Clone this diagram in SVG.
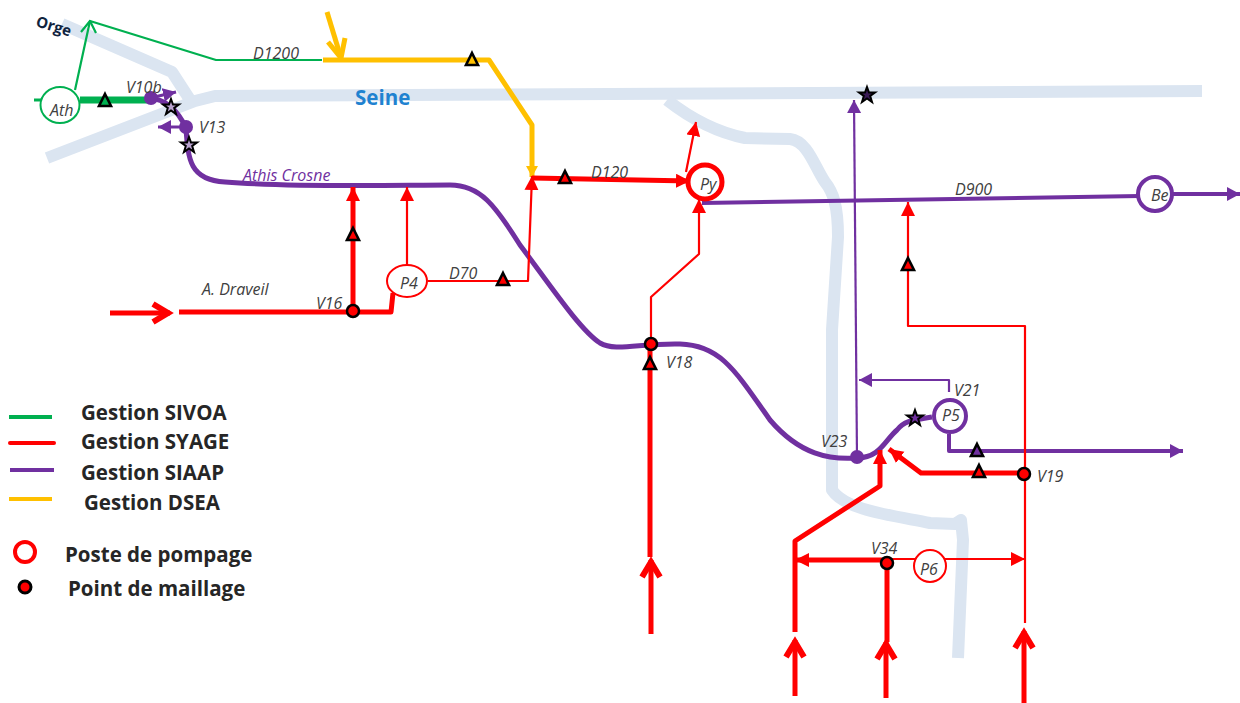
<svg xmlns="http://www.w3.org/2000/svg" width="1240" height="703" viewBox="0 0 1240 703">
<style>
text{font-family:"Open Sans","Liberation Sans",sans-serif;fill:#404040;font-style:italic;font-size:16px}
.leg{font-style:normal;font-weight:700;font-size:20.5px;fill:#262626}
.riv{fill:none;stroke:#dbe5f1;stroke-width:12;stroke-linejoin:round}
.g,.r,.p,.y{fill:none;stroke-linejoin:round}
.g{stroke:#00b050}.r{stroke:#ff0000}.p{stroke:#7030a0}.y{stroke:#ffc000}
.w1{stroke-width:2.2}.w2{stroke-width:3}.w3{stroke-width:4}.w4{stroke-width:5}.w5{stroke-width:7}
.tri{stroke:#000;stroke-width:2.6;stroke-linejoin:miter}
.star{stroke:#000;stroke-width:2}
.node{fill:#fff}
.mesh{fill:#ff0000;stroke:#000;stroke-width:2.5}
</style>
<defs>
<marker id="ar" markerUnits="userSpaceOnUse" markerWidth="18" markerHeight="18" refX="14" refY="7" orient="auto"><path d="M0,0L14,7L0,14z" fill="#ff0000"/></marker>
<marker id="ao" markerUnits="userSpaceOnUse" markerWidth="30" markerHeight="30" refX="22" refY="13" orient="auto"><path d="M5,4L20,13L5,22" fill="none" stroke="#ff0000" stroke-width="6"/></marker>
<marker id="ay" markerUnits="userSpaceOnUse" markerWidth="16" markerHeight="16" refX="11" refY="6" orient="auto"><path d="M0,0L11,6L0,12z" fill="#ffc000"/></marker>
<marker id="ap" markerUnits="userSpaceOnUse" markerWidth="18" markerHeight="18" refX="13" refY="7" orient="auto"><path d="M0,0L13,7L0,14z" fill="#7030a0"/></marker>
<path id="t" d="M0,-7L6,5H-6z"/>
<path id="s" d="M0,-8L2,-2.5L8,-2.5L3.2,1L5,7L0,3.4L-5,7L-3.2,1L-8,-2.5L-2,-2.5z"/>
</defs>
<g id="rivers">
<path class="riv" d="M1202,91L215,96L195,101L47,158"/>
<path class="riv" d="M62,24L172,72L194,106"/>
<path class="riv" d="M667,100C690,118 715,132 745,138L790,139C808,141 815,168 825,182C833,192 838,205 838,237L832,330L832,490C845,510 890,515 930,523L955,524L961,520L963,540L958,658"/>
</g>
<g id="connectors">
<path class="g w1" d="M322,60H216L90,21L75,90"/>
<path class="g w1" d="M81,32L90,21L96,33"/>
<path class="g w2" d="M34,100H42"/>
<path class="g w5" d="M80,100H150"/>
<path class="y w4" d="M323,60H489L532,125L532,177" marker-end="url(#ay)"/>
<path class="y w4" d="M327,12L341,58"/>
<path class="y w4" d="M328,42L341,58L345,38"/>
<path class="p w4" d="M150,98C170,100 180,115 186,128C188,160 190,180 225,182C300,188 400,185 450,185C480,185 495,205 520,245C550,285 580,330 600,343C615,352 640,343 680,344C720,345 735,370 770,420C800,455 830,460 857,458C880,458 885,440 897,430C905,420 915,420 932,417"/>
<path class="p w2" d="M150,98L176,92" marker-end="url(#ap)"/>
<path class="p w2" d="M186,127H158" marker-end="url(#ap)"/>
<path class="p w1" d="M857,458L854,100" marker-end="url(#ap)"/>
<path class="p w1" d="M949,392V380H859" marker-end="url(#ap)"/>
<path class="p w3" d="M702,203L1140,196"/>
<path class="p w3" d="M1172,194H1240" marker-end="url(#ap)"/>
<path class="p w3" d="M949,434V451H1183" marker-end="url(#ap)"/>
<path class="r w4" d="M179,312H391L393,293"/>
<path class="r w4" d="M110,313H170" marker-end="url(#ao)"/>
<path class="r w4" d="M353,312V187" marker-end="url(#ar)"/>
<path class="r w1" d="M407,269V187" marker-end="url(#ar)"/>
<path class="r w1" d="M428,281H528L532,176" marker-end="url(#ar)"/>
<path class="r w4" d="M532,178L690,181" marker-end="url(#ar)"/>
<path class="r w1" d="M651,345V297L699,254L699,199" marker-end="url(#ar)"/>
<path class="r w1" d="M686,172L696,122" marker-end="url(#ar)"/>
<path class="r w4" d="M650,557V345"/>
<path class="r w4" d="M651,634V560" marker-end="url(#ao)"/>
<path class="r w1" d="M1025,623V326H908V202" marker-end="url(#ar)"/>
<path class="r w4" d="M1024,473H921L889,449" marker-end="url(#ar)"/>
<path class="r w4" d="M795,632V541L880,486L880,450" marker-end="url(#ar)"/>
<path class="r w4" d="M887,560H795" marker-end="url(#ar)"/>
<path class="r w1" d="M887,559H1025" marker-end="url(#ar)"/>
<path class="r w4" d="M887,642V562"/>
<path class="r w4" d="M795,696V640" marker-end="url(#ao)"/>
<path class="r w4" d="M886,698V642" marker-end="url(#ao)"/>
<path class="r w4" d="M1024,703V631" marker-end="url(#ao)"/>
</g>
<g id="Ath"><ellipse class="g node" cx="60" cy="105" rx="19.500" ry="18" stroke-width="2"/><text x="50" y="116">Ath</text></g>
<g id="P4"><ellipse class="r node" cx="407" cy="281" rx="20" ry="16" stroke-width="2"/><text x="400" y="289">P4</text></g>
<g id="Py"><circle class="r node" cx="705" cy="182" r="17" stroke-width="5"/><text x="700" y="190">Py</text></g>
<g id="Be"><circle class="p node" cx="1155" cy="194" r="17" stroke-width="4"/><text x="1151" y="201">Be</text></g>
<g id="P5"><circle class="p node" cx="950" cy="416" r="16" stroke-width="4"/><text x="942" y="421">P5</text></g>
<g id="P6"><circle class="r node" cx="930" cy="566" r="16" stroke-width="2"/><text x="920" y="575">P6</text></g>
<g id="triangles">
<use href="#t" x="105" y="101" fill="#00b050" class="tri"/>
<use href="#t" x="472" y="60" fill="#ffc000" class="tri"/>
<use href="#t" x="565" y="178" fill="#ff0000" class="tri"/>
<use href="#t" x="353" y="235" fill="#ff0000" class="tri"/>
<use href="#t" x="503" y="280" fill="#ff0000" class="tri"/>
<use href="#t" x="650" y="364" fill="#ff0000" class="tri"/>
<use href="#t" x="908" y="265" fill="#ff0000" class="tri"/>
<use href="#t" x="977" y="451" fill="#7030a0" class="tri"/>
<use href="#t" x="979" y="472" fill="#ff0000" class="tri"/>
</g>
<g id="stars">
<use href="#s" x="171" y="107" fill="#b9a3cf" class="star"/>
<use href="#s" x="189" y="145" fill="#b9a3cf" class="star"/>
<use href="#s" x="915" y="418" fill="#7030a0" class="star"/>
<use href="#s" x="867" y="95" fill="#3a1a55" class="star"/>
</g>
<g id="points">
<circle cx="151" cy="98" r="7" fill="#7030a0"/>
<circle cx="186" cy="127" r="7" fill="#7030a0"/>
<circle cx="857" cy="457" r="7" fill="#7030a0"/>
<circle class="mesh" cx="353" cy="311" r="6"/>
<circle class="mesh" cx="651" cy="344" r="6"/>
<circle class="mesh" cx="1024" cy="474" r="6"/>
<circle class="mesh" cx="887" cy="563" r="6"/>
</g>
<g id="labels">
<text x="35" y="26" transform="rotate(17 35 26)" style="font-style:normal;font-weight:700;fill:#10243e;font-size:15px">Orge</text>
<text x="253" y="59">D1200</text>
<text x="126" y="93">V10b</text>
<text x="199" y="133">V13</text>
<text x="355" y="105" style="font-style:normal;font-weight:700;font-size:20.5px;fill:#1f82d0">Seine</text>
<text x="243" y="181" style="fill:#7030a0">Athis Crosne</text>
<text x="591" y="178">D120</text>
<text x="955" y="195">D900</text>
<text x="202" y="295">A. Draveil</text>
<text x="316" y="309">V16</text>
<text x="449" y="279">D70</text>
<text x="666" y="368">V18</text>
<text x="954" y="396">V21</text>
<text x="821" y="447">V23</text>
<text x="1037" y="482">V19</text>
<text x="871" y="554">V34</text>
</g>
<g id="legend">
<path class="g w3" d="M9,417H52"/>
<path class="r w3" d="M10,443H54" stroke-linecap="round"/>
<path class="p w3" d="M10,470H54"/>
<path class="y w3" d="M9,499H52"/>
<text class="leg" x="81" y="420">Gestion SIVOA</text>
<text class="leg" x="81" y="449">Gestion SYAGE</text>
<text class="leg" x="81" y="480">Gestion SIAAP</text>
<text class="leg" x="84" y="510">Gestion DSEA</text>
<circle cx="25" cy="552" r="10" fill="#fff" stroke="#ff0000" stroke-width="4"/>
<circle cx="25" cy="587" r="6" fill="#ff0000" stroke="#000" stroke-width="3"/>
<text class="leg" x="65" y="562">Poste de pompage</text>
<text class="leg" x="68" y="596">Point de maillage</text>
</g>
</svg>
